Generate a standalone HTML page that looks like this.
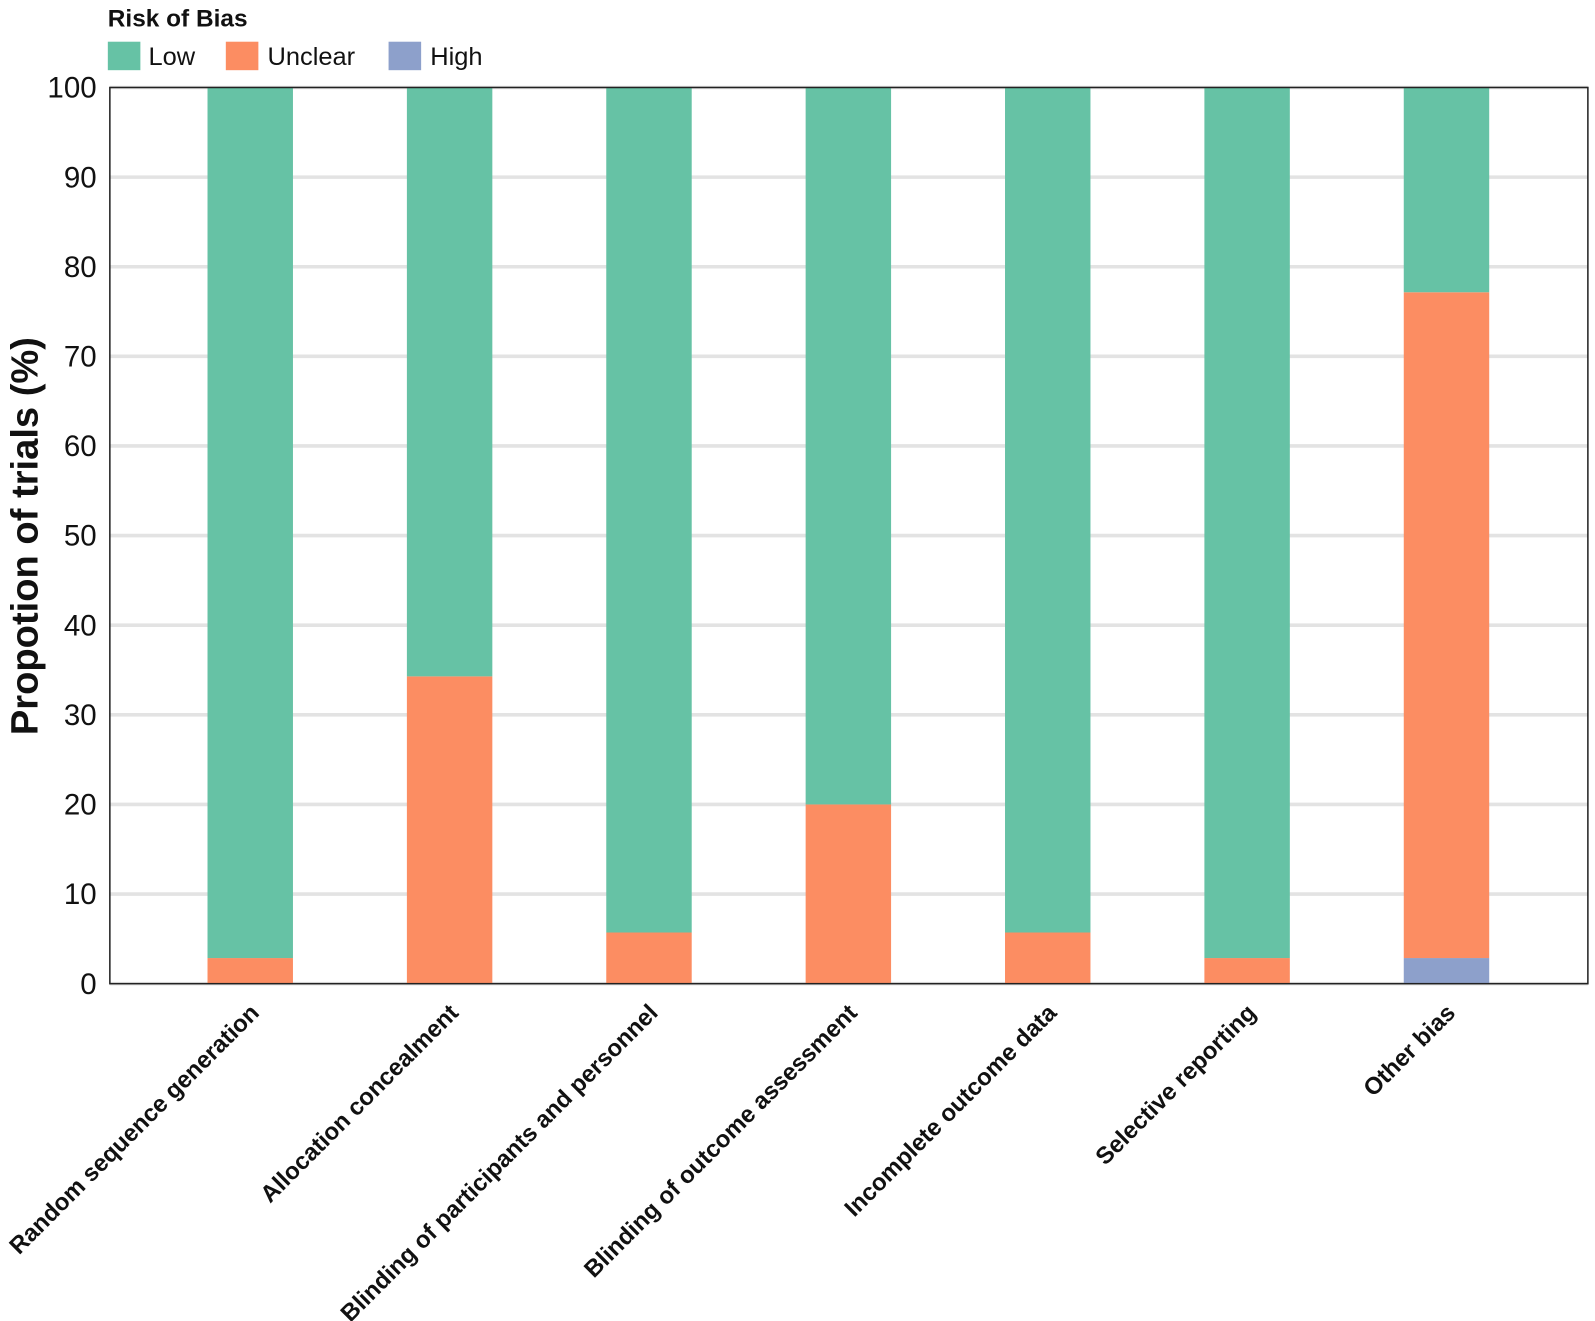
<!DOCTYPE html>
<html><head><meta charset="utf-8"><style>
html,body{margin:0;padding:0;background:#fff}
svg{display:block;font-family:"Liberation Sans",Arial,sans-serif}
</style></head><body>
<svg id="chart" width="1595" height="1321" viewBox="0 0 1568 1298.6" preserveAspectRatio="none" xmlns="http://www.w3.org/2000/svg">
<g>
<text x="106" y="26" font-size="24" font-weight="bold" fill="#111">Risk of Bias</text>
<rect x="106" y="41" width="32" height="28" fill="#66c2a5"/>
<text x="146" y="64" font-size="25" fill="#111">Low</text>
<rect x="222" y="41" width="32" height="28" fill="#fc8d62"/>
<text x="263" y="64" font-size="25" fill="#111">Unclear</text>
<rect x="382" y="41" width="32" height="28" fill="#8da0cb"/>
<text x="423" y="64" font-size="25" fill="#111">High</text>
</g>
<g id="grid"></g>
<g id="bars"></g>
<rect x="108" y="86" width="1453" height="881" fill="none" stroke="#222" stroke-width="1.5"/>
<g id="yticks"></g>
<g id="xticks"></g>
<text transform="translate(37,527) rotate(-90)" text-anchor="middle" font-size="37.5" font-weight="bold" fill="#111">Propotion of trials (%)</text>
</svg>
<script>
const categories = ["Random sequence generation","Allocation concealment","Blinding of participants and personnel","Blinding of outcome assessment","Incomplete outcome data","Selective reporting","Other bias"];
const highValues = [0, 0, 0, 0, 0, 0, 2.86];
const unclearValues = [2.86, 34.29, 5.71, 20.0, 5.71, 2.86, 74.29];
const lowValues = [97.14, 65.71, 94.29, 80.0, 94.29, 97.14, 22.85];
const yTicks = [0,10,20,30,40,50,60,70,80,90,100];

const NS = "http://www.w3.org/2000/svg";
const top0 = 86, bot0 = 967;
const y = v => bot0 - (v/100)*(bot0-top0);
const xc = i => 246 + 196*i;
const bw = 84;
function mk(tag, attrs, parent){const e=document.createElementNS(NS,tag);for(const k in attrs)e.setAttribute(k,attrs[k]);parent.appendChild(e);return e;}
const grid=document.getElementById('grid'), bars=document.getElementById('bars'), yt=document.getElementById('yticks'), xt=document.getElementById('xticks');
yTicks.forEach(t=>{
  const l=mk('line',{x1:108,x2:1561,y1:y(t),y2:y(t),stroke:'#e3e3e3','stroke-width':3.5},grid);
  
  
  const tx=mk('text',{x:95,y:y(t)+10,'text-anchor':'end','font-size':29,fill:'#111'},yt);
  tx.textContent=t;
  
  
});
categories.forEach((c,i)=>{
  const segs=[['high',highValues[i],'#8da0cb'],['unclear',unclearValues[i],'#fc8d62'],['low',lowValues[i],'#66c2a5']];
  let base=0;
  segs.forEach(([n,v,col])=>{
    if(v<=0) return;
    const r=mk('rect',{x:xc(i)-bw/2,y:y(base+v),width:bw,height:y(base)-y(base+v),fill:col},bars);
    
    
    base+=v;
  });
  const tx=mk('text',{transform:`translate(${xc(i)+10},997) rotate(-45)`,'text-anchor':'end','font-size':23.5,'font-weight':'bold',fill:'#111'},xt);
  tx.textContent=c;
  
  
});
</script>
</body></html>
